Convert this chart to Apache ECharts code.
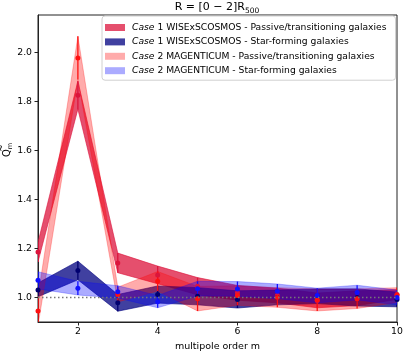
<!DOCTYPE html>
<html>
<head>
<meta charset="utf-8">
<script src="https://cdn.jsdelivr.net/npm/echarts@6/dist/echarts.min.js"></script>
<style>
html,body{margin:0;padding:0;background:#fff;}
#chart{width:403px;height:351px;}
</style>
</head>
<body>
<div id="chart"></div>
<script>
const m = [1, 2, 3, 4, 5, 6, 7, 8, 9, 10];
const c1PassiveMean = [1.185, 1.825, 1.141, 1.092, 1.046, 1.019, 1.008, 0.988, 0.997, 1.012];
const c1PassiveErr  = [0.040, 0.057, 0.040, 0.036, 0.035, 0.030, 0.030, 0.030, 0.030, 0.020];
const c1SFMean      = [1.031, 1.110, 0.978, 1.012, 1.005, 0.992, 1.000, 1.005, 1.000, 0.992];
const c1SFErr       = [0.028, 0.038, 0.034, 0.035, 0.035, 0.035, 0.030, 0.030, 0.035, 0.030];
const c2PassiveMean = [0.945, 1.977, 1.012, 1.066, 0.995, 1.008, 1.000, 0.990, 0.995, 1.010];
const c2PassiveErr  = [0.060, 0.088, 0.030, 0.040, 0.050, 0.040, 0.040, 0.045, 0.040, 0.030];
const c2SFMean      = [1.070, 1.038, 1.023, 0.983, 1.036, 1.035, 1.025, 1.008, 1.020, 1.000];
const c2SFErr       = [0.035, 0.028, 0.025, 0.025, 0.030, 0.030, 0.030, 0.030, 0.030, 0.030];

const xTicks = [2, 4, 6, 8, 10];
const yTicks = [1.0, 1.2, 1.4, 1.6, 1.8, 2.0];
const refLine = [[1, 1.0], [10, 1.0]];

const names = [
  'Case 1 WISExSCOSMOS - Passive/transitioning galaxies',
  'Case 1 WISExSCOSMOS - Star-forming galaxies',
  'Case 2 MAGENTICUM - Passive/transitioning galaxies',
  'Case 2 MAGENTICUM - Star-forming galaxies'
];

const sets = [
  {mean: c1PassiveMean, err: c1PassiveErr, fill: 'rgba(220,20,60,0.75)', dot: '#dc143c'},
  {mean: c1SFMean, err: c1SFErr, fill: 'rgba(0,0,128,0.75)', dot: '#000070'},
  {mean: c2PassiveMean, err: c2PassiveErr, fill: 'rgba(255,0,0,0.33)', dot: '#ff1010'},
  {mean: c2SFMean, err: c2SFErr, fill: 'rgba(0,0,255,0.33)', dot: '#1010ff'}
];

const FONT = 'DejaVu Sans';
const series = [];

sets.forEach((s, k) => {
  const data = m.map((x, i) => [x, s.mean[i] - s.err[i], s.mean[i] + s.err[i]]);
  series.push({
    type: 'custom',
    name: names[k],
    clip: true,
    itemStyle: {color: s.fill},
    encode: {x: 0, y: [1, 2]},
    data: data,
    renderItem: function (params, api) {
      if (params.dataIndex !== 0) return;
      const pts = [];
      for (let i = 0; i < data.length; i++) pts.push(api.coord([data[i][0], data[i][2]]));
      for (let i = data.length - 1; i >= 0; i--) pts.push(api.coord([data[i][0], data[i][1]]));
      return {type: 'polygon', shape: {points: pts}, style: {fill: s.fill, stroke: s.fill, lineWidth: 0.8}};
    },
    z: 2
  });
});

sets.forEach((s, k) => {
  const data = m.map((x, i) => [x, s.mean[i] - s.err[i], s.mean[i] + s.err[i]]);
  series.push({
    type: 'custom',
    name: 'err' + k,
    clip: true,
    encode: {x: 0, y: [1, 2]},
    data: data,
    renderItem: function (params, api) {
      const a = api.coord([api.value(0), api.value(1)]);
      const b = api.coord([api.value(0), api.value(2)]);
      return {type: 'line', shape: {x1: a[0], y1: a[1], x2: b[0], y2: b[1]}, style: {stroke: s.dot, lineWidth: 1.3}};
    },
    z: 3
  });
  series.push({
    type: 'scatter',
    name: 'pt' + k,
    symbolSize: 5,
    itemStyle: {color: s.dot, opacity: 1},
    data: m.map((x, i) => [x, s.mean[i]]),
    clip: true,
    z: 3
  });
});

series.push({
  type: 'line',
  name: 'ref',
  data: refLine,
  symbol: 'none',
  lineStyle: {color: '#777', width: 1.3, type: [1.5, 2.5]},
  z: 4,
  silent: true
});

const chart = echarts.init(document.getElementById('chart'), null, {renderer: 'canvas'});
chart.setOption({
  animation: false,
  backgroundColor: '#fff',
  textStyle: {fontFamily: FONT},
  grid: {left: 38, right: 6, top: 15, bottom: 29, show: true, borderColor: '#222', borderWidth: 1,
    backgroundColor: 'transparent', containLabel: false, outerBoundsMode: 'none'},
  xAxis: {
    type: 'value', min: 1, max: 10,
    name: 'multipole order m', nameLocation: 'middle', nameGap: 20,
    nameTextStyle: {fontFamily: FONT, fontSize: 9.5, color: '#000'},
    axisLine: {show: true, lineStyle: {color: '#222', width: 1}},
    axisTick: {show: true, length: 3.5, lineStyle: {color: '#222'}, customValues: xTicks},
    axisLabel: {fontFamily: FONT, fontSize: 9.3, color: '#000', margin: 5.5, customValues: xTicks},
    splitLine: {show: false}
  },
  yAxis: {
    type: 'value', min: 0.9, max: 2.152,
    axisLine: {show: true, lineStyle: {color: '#222', width: 1}},
    axisTick: {show: true, length: 3.5, lineStyle: {color: '#222'}, customValues: yTicks},
    axisLabel: {fontFamily: FONT, fontSize: 9.3, color: '#000', margin: 6, customValues: yTicks,
      formatter: v => v.toFixed(1)},
    splitLine: {show: false}
  },
  legend: {
    data: names,
    orient: 'vertical',
    left: 102, top: 16,
    padding: [6, 9, 4, 3],
    itemWidth: 20, itemHeight: 7, itemGap: 3.4,
    icon: 'rect',
    backgroundColor: 'rgba(255,255,255,0.85)',
    borderColor: '#d0d0d0', borderWidth: 1, borderRadius: 3,
    selectedMode: false,
    formatter: function (n) { return n.replace(/^Case/, '{i|Case}'); },
    textStyle: {fontFamily: FONT, fontSize: 9.2, color: '#000', lineHeight: 11, padding: [0, 0, 0, 2],
      rich: {i: {fontFamily: FONT, fontSize: 9.2, fontStyle: 'italic', color: '#000', lineHeight: 11}}}
  },
  graphic: [
    {type: 'text', x: 217, y: 0, z: 10,
      style: {text: '{a|R = [0 − 2]R}{s|500}', textAlign: 'center', textVerticalAlign: 'top',
        rich: {a: {fontFamily: FONT, fontSize: 11, lineHeight: 15, verticalAlign: 'middle', fill: '#000'},
               s: {fontFamily: FONT, fontSize: 7.5, lineHeight: 7.5, verticalAlign: 'bottom', fill: '#000'}}}},
    {type: 'text', x: 7, y: 150, rotation: Math.PI / 2, z: 10,
      style: {text: '{a|Q}{s|m}', textAlign: 'center', textVerticalAlign: 'middle',
        rich: {a: {fontFamily: FONT, fontSize: 10, lineHeight: 14, verticalAlign: 'middle', fill: '#000'},
               s: {fontFamily: FONT, fontSize: 6.5, lineHeight: 6.5, verticalAlign: 'bottom', fill: '#000'}}}},
    {type: 'text', x: 1.5, y: 148, rotation: Math.PI / 2, z: 10,
      style: {text: '~', textAlign: 'center', textVerticalAlign: 'middle',
        fontFamily: FONT, fontSize: 9, fill: '#000'}}
  ],
  series: series
});
</script>
</body>
</html>
